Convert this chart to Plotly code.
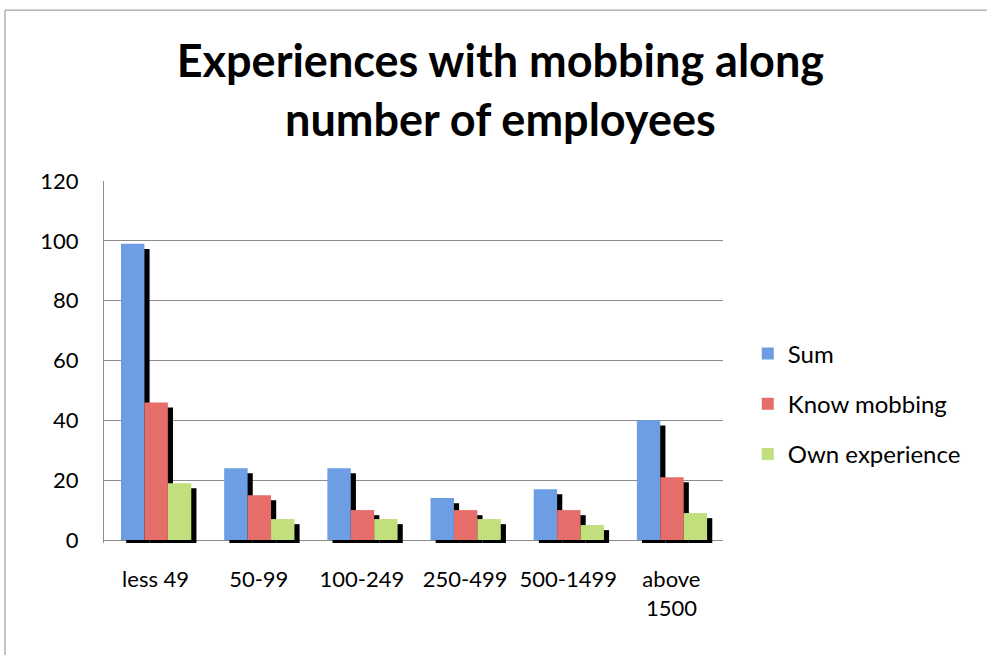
import plotly.graph_objects as go

categories = ["less 49", "50-99", "100-249", "250-499", "500-1499", "above<br>1500"]
sum_vals = [99, 24, 24, 14, 17, 40]
know_vals = [46, 15, 10, 10, 10, 21]
own_vals = [19, 7, 7, 7, 5, 9]
series_names = ["Sum", "Know mobbing", "Own experience"]
y_ticks = [0, 20, 40, 60, 80, 100, 120]

colors = ["#6d9de3", "#e56e6b", "#c1df7c"]
FONT = "Lato, Calibri, sans-serif"

x_idx = list(range(len(categories)))
series = [sum_vals, know_vals, own_vals]
bar_w = 0.227
offsets = [-0.335, -0.108, 0.119]
shadow_dx = 0.05
shadow_dy = 1.7

fig = go.Figure()
# shadows first
for vals, off in zip(series, offsets):
    fig.add_trace(go.Bar(
        x=x_idx, y=vals, base=-shadow_dy, offset=off + shadow_dx, width=bar_w,
        marker=dict(color="black", line=dict(width=0)), showlegend=False, hoverinfo="skip"))
for i, (vals, off, name, col) in enumerate(zip(series, offsets, series_names, colors)):
    fig.add_trace(go.Bar(
        x=x_idx, y=vals, offset=off, width=bar_w, name=name, legendgroup=name,
        marker=dict(color=col, line=dict(width=0))))

fig.update_layout(
    width=987, height=655,
    barmode="overlay",
    paper_bgcolor="white", plot_bgcolor="white",
    margin=dict(l=104, r=264, t=181, b=112),
    font=dict(family=FONT, color="black", size=22),
    title=dict(text="<b>Experiences with mobbing along<br>number of employees</b>",
               x=0.507, xref="container", xanchor="center",
               y=0.882, yref="container", yanchor="top",
               font=dict(family=FONT, size=45, color="black")),
    xaxis=dict(tickmode="array", tickvals=x_idx, ticktext=categories,
               range=[-0.5, 5.5], showgrid=False, showline=False, zeroline=False,
               ticks="", ticklabelstandoff=21, tickfont=dict(size=22)),
    yaxis=dict(range=[-1.0, 120], tickvals=y_ticks, showgrid=True, gridcolor="#8c8c8c",
               gridwidth=1, zeroline=True, zerolinecolor="#8c8c8c", zerolinewidth=1,
               showline=True, linecolor="#8c8c8c", linewidth=1, ticks="",
               ticklabelstandoff=20, tickfont=dict(size=22)),
    legend=dict(x=1.04, xanchor="left", y=0.384, yanchor="middle",
                tracegroupgap=16, font=dict(size=24), bgcolor="rgba(0,0,0,0)"),
    shapes=[dict(type="rect", xref="paper", yref="paper",
                 x0=-0.16, x1=1.6, y0=-1.0, y1=1.472,
                 line=dict(color="#8c8c8c", width=1), fillcolor="rgba(0,0,0,0)", layer="below")],
)

fig.write_html("out.html", config={"displayModeBar": False},
               post_script="document.body.style.margin='0';")
